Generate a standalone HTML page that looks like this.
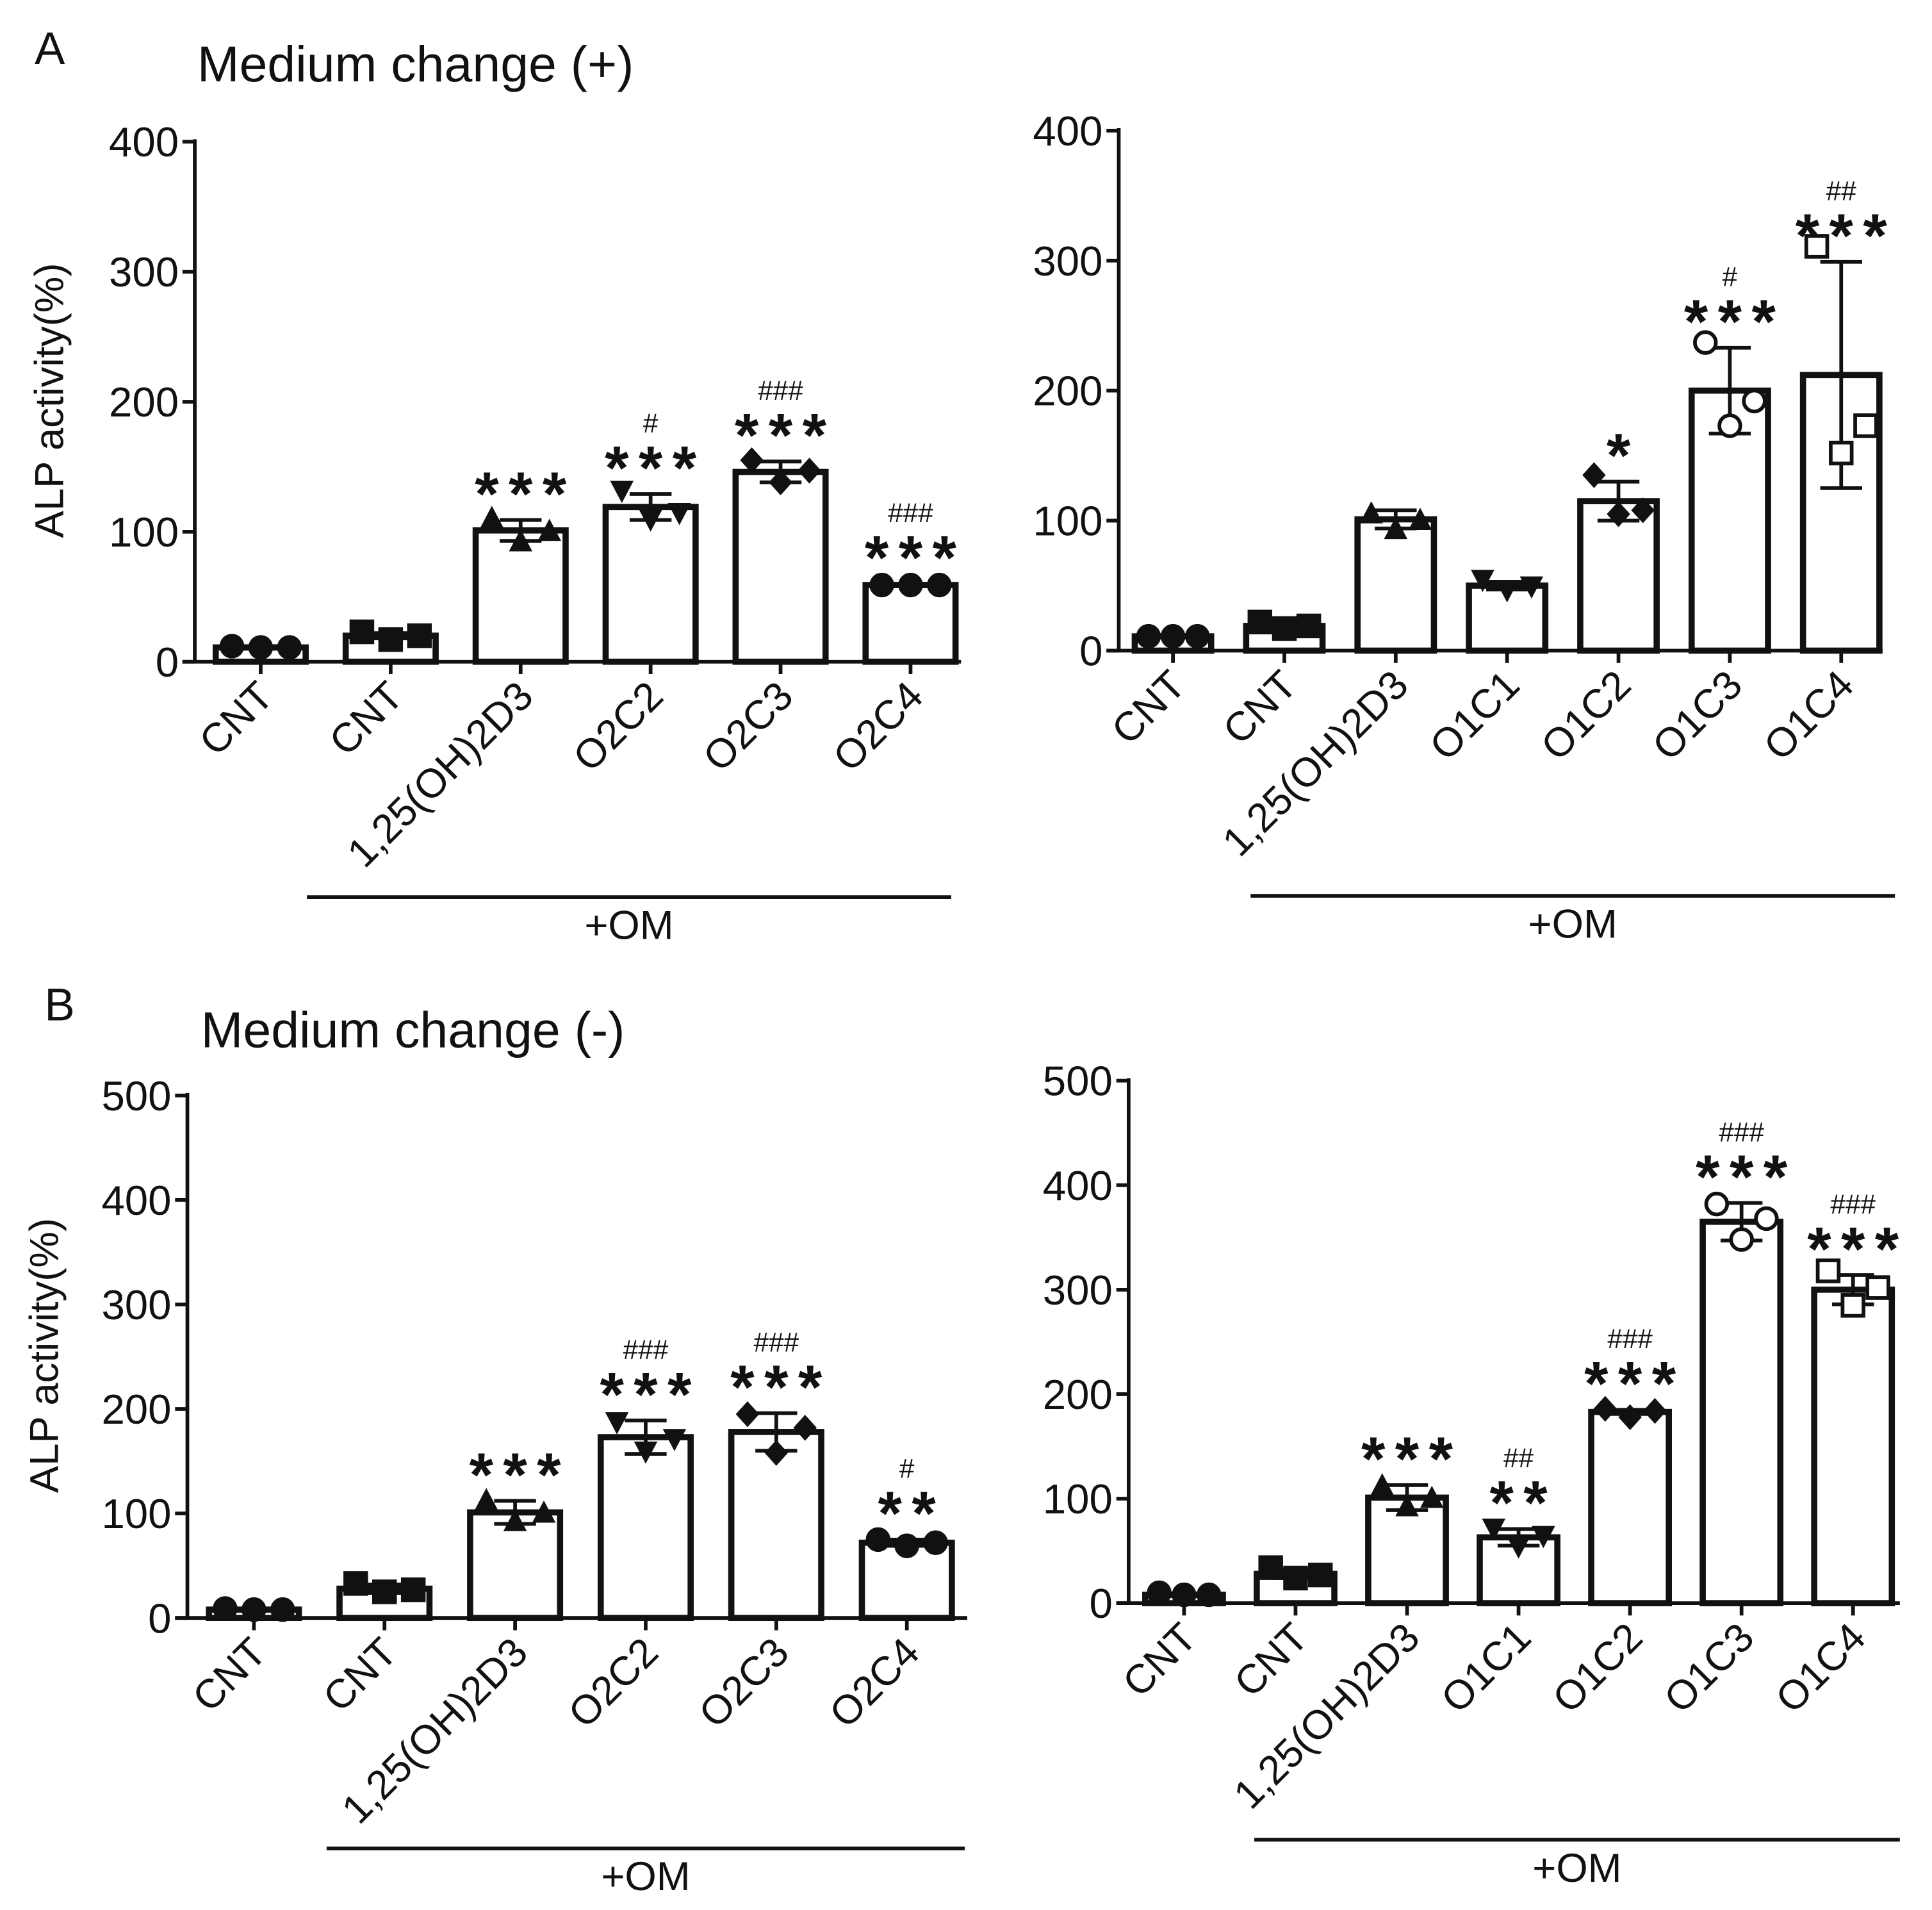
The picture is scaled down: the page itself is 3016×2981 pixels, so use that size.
<!DOCTYPE html>
<html><head><meta charset="utf-8"><style>
html,body{margin:0;padding:0;background:#fff}
svg{display:block}
text{font-family:"Liberation Sans",Arial,sans-serif;fill:#111}
</style></head><body>
<svg id="fig" width="3016" height="2981" viewBox="0 0 1568 1550" xmlns="http://www.w3.org/2000/svg">
<text x="28" y="52" font-size="37">A</text>
<text x="160" y="66" font-size="41">Medium change (+)</text>
<text x="36" y="828" font-size="37">B</text>
<text x="163" y="850" font-size="41">Medium change (-)</text>
<text transform="translate(51,325) rotate(-90)" text-anchor="middle" font-size="33">ALP activity(%)</text>
<text transform="translate(47,1100) rotate(-90)" text-anchor="middle" font-size="33">ALP activity(%)</text>
</svg>
<script>
const catsA1=["CNT","CNT","1,25(OH)2D3","O2C2","O2C3","O2C4"];
const meanA1=[11,20,101,119,146,59];
const sdA1=[1,2,8,10,8,1];
const ptsA1=[[12,11,11],[23,17,20],[110,92,100],[132,110,115],[155,138,147],[59,59,59]];
const starsA1=["","","***","***","***","***"];
const hashA1=["","","","#","###","###"];
const ticksA=[0,100,200,300,400];

const catsA2=["CNT","CNT","1,25(OH)2D3","O1C1","O1C2","O1C3","O1C4"];
const meanA2=[11,19,101,50,115,200,212];
const sdA2=[1,2,7,3,15,33,87];
const ptsA2=[[11,11,11],[22,17,19],[105,93,100],[55,47,50],[135,105,108],[237,173,192],[311,152,173]];
const starsA2=["","","","","*","***","***"];
const hashA2=["","","","","","#","##"];

const catsB1=["CNT","CNT","1,25(OH)2D3","O2C2","O2C3","O2C4"];
const meanB1=[8,28,101,173,178,72];
const sdB1=[1,4,11,16,18,3];
const ptsB1=[[9,8,8],[33,25,27],[112,92,100],[188,160,172],[195,158,182],[75,69,72]];
const starsB1=["","","***","***","***","**"];
const hashB1=["","","","###","###","#"];
const ticksB=[0,100,200,300,400,500];

const catsB2=["CNT","CNT","1,25(OH)2D3","O1C1","O1C2","O1C3","O1C4"];
const meanB2=[8,28,101,63,183,365,300];
const sdB2=[1,4,12,8,2,18,14];
const ptsB2=[[10,8,8],[34,24,27],[112,92,100],[72,55,65],[186,178,184],[382,348,368],[318,285,302]];
const starsB2=["","","***","**","***","***","***"];
const hashB2=["","","","##","###","###","###"];

const NS="http://www.w3.org/2000/svg";
const svg=document.getElementById('fig');
function mk(tag,attrs,parent){const e=document.createElementNS(NS,tag);for(const k in attrs)e.setAttribute(k,attrs[k]);(parent||svg).appendChild(e);return e;}

function panel(id,cfg,cats,mean,sd,pts,stars,hashes,ticks,markers){
  const g=mk('g',{});
  
  
  const ymax=ticks[ticks.length-1];
  const Y=v=>cfg.y0-(v/ymax)*(cfg.y0-cfg.yTop);
  const X=i=>cfg.x0+i*cfg.step;
  const ya=mk('line',{x1:cfg.ax,y1:Y(ymax)-2,x2:cfg.ax,y2:cfg.y0,stroke:'#111','stroke-width':3},g);
  
  const xa=mk('line',{x1:cfg.ax-10,y1:cfg.y0,x2:cfg.xEnd,y2:cfg.y0,stroke:'#111','stroke-width':3},g);
  
  ticks.forEach(t=>{
    mk('line',{x1:cfg.ax-10,y1:Y(t),x2:cfg.ax,y2:Y(t),stroke:'#111','stroke-width':3},g);
    const tl=mk('text',{x:cfg.ax-13,y:Y(t)+12,'text-anchor':'end','font-size':34},g);
    tl.textContent=t;
    
  });
  cats.forEach((c,i)=>{
    const cx=X(i);
    const b=mk('rect',{x:cx-cfg.bw/2,y:Y(mean[i]),width:cfg.bw,height:cfg.y0-Y(mean[i]),fill:'#fff',stroke:'#111','stroke-width':5},g);
    
    mk('line',{x1:cx,y1:cfg.y0,x2:cx,y2:cfg.y0+10,stroke:'#111','stroke-width':3},g);
    const eb=mk('g',{},g);
    
    const hi=Y(mean[i]+sd[i]),lo=Y(mean[i]-sd[i]);
    mk('line',{x1:cx,y1:hi,x2:cx,y2:lo,stroke:'#111','stroke-width':3},eb);
    mk('line',{x1:cx-17,y1:hi,x2:cx+17,y2:hi,stroke:'#111','stroke-width':3},eb);
    mk('line',{x1:cx-17,y1:lo,x2:cx+17,y2:lo,stroke:'#111','stroke-width':3},eb);
    const offs=[-cfg.bw*0.32,0,cfg.bw*0.32];
    pts[i].forEach((v,k)=>{
      const px=cx+offs[k],py=Y(v),m=markers[i],r=8.5;
      let p;
      if(m==='circle'||m==='ocircle')p=mk('circle',{cx:px,cy:py,r:r,fill:m==='circle'?'#111':'#fff',stroke:'#111','stroke-width':3},g);
      else if(m==='square'||m==='osquare')p=mk('rect',{x:px-r,y:py-r,width:2*r,height:2*r,fill:m==='square'?'#111':'#fff',stroke:'#111','stroke-width':3},g);
      else if(m==='up')p=mk('polygon',{points:`${px},${py-r-2} ${px-r-1},${py+r-1} ${px+r+1},${py+r-1}`,fill:'#111'},g);
      else if(m==='down')p=mk('polygon',{points:`${px},${py+r+2} ${px-r-1},${py-r+1} ${px+r+1},${py-r+1}`,fill:'#111'},g);
      else p=mk('polygon',{points:`${px},${py-r-2} ${px+r+1},${py} ${px},${py+r+2} ${px-r-1},${py}`,fill:'#111'},g);
      
    });
    const lx=cx+12,ly=cfg.y0+30;
    const cl=mk('text',{transform:`translate(${lx},${ly}) rotate(-45)`,'text-anchor':'end','font-size':33},g);
    cl.textContent=c;
    
    const top=Y(mean[i]+sd[i]);
    if(stars[i]){
      const st=mk('text',{x:cx+4,y:top-4,'text-anchor':'middle','font-size':50,'font-weight':'bold','letter-spacing':'8'},g);
      st.textContent=stars[i];
      
    }
    if(hashes[i]){
      const hy=top-4-(stars[i]?46:0);
      const ht=mk('text',{x:cx,y:hy,'text-anchor':'middle','font-size':22},g);
      ht.textContent=hashes[i];
      
    }
  });
  const om=mk('line',{x1:cfg.omX1,y1:cfg.omY,x2:cfg.omX2,y2:cfg.omY,stroke:'#111','stroke-width':3},g);
  
  const omt=mk('text',{x:(cfg.omX1+cfg.omX2)/2,y:cfg.omY+34,'text-anchor':'middle','font-size':33},g);
  omt.textContent='+OM';
  
}
const mk6=['circle','square','up','down','diamond','circle'];
const mk7=['circle','square','up','down','diamond','ocircle','osquare'];
panel('a-left',{ax:158,y0:537,yTop:115,x0:211.5,step:105.5,bw:73,xEnd:780,omX1:249,omX2:772,omY:728},catsA1,meanA1,sdA1,ptsA1,starsA1,hashA1,ticksA,mk6);
panel('a-right',{ax:908,y0:528,yTop:106,x0:952,step:90.4,bw:62,xEnd:1528,omX1:1015,omX2:1538,omY:727},catsA2,meanA2,sdA2,ptsA2,starsA2,hashA2,ticksA,mk7);
panel('b-left',{ax:152,y0:1313,yTop:889,x0:206,step:106,bw:73,xEnd:785,omX1:265,omX2:783,omY:1500},catsB1,meanB1,sdB1,ptsB1,starsB1,hashB1,ticksB,mk6);
panel('b-right',{ax:916,y0:1301,yTop:877,x0:961,step:90.5,bw:63,xEnd:1542,omX1:1018,omX2:1542,omY:1493},catsB2,meanB2,sdB2,ptsB2,starsB2,hashB2,ticksB,mk7);
</script>
</body></html>
